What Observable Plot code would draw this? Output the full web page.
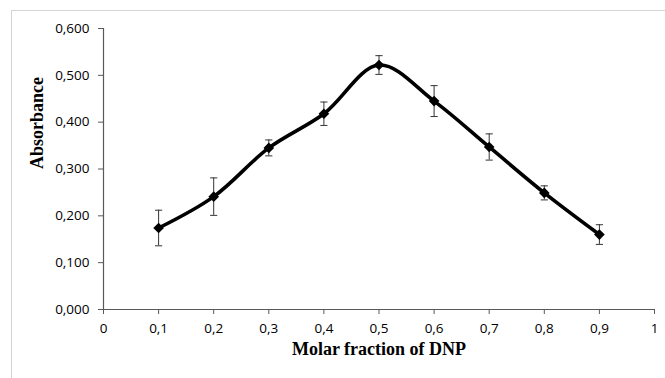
<!DOCTYPE html>
<html>
<head>
<meta charset="utf-8">
<script src="https://cdn.jsdelivr.net/npm/d3@7"></script>
<script src="https://cdn.jsdelivr.net/npm/@observablehq/plot@0.6"></script>
<style>
  html, body { margin: 0; padding: 0; background: #fff; }
  #wrap { position: relative; width: 665px; height: 378px; overflow: hidden; }
  #frame { position: absolute; left: 11px; top: 10px; right: -2px; bottom: -2px;
           border-top: 1px solid #d4d4d4; border-left: 1px solid #d4d4d4; pointer-events: none; }
</style>
</head>
<body>
<div id="wrap"><div id="frame"></div></div>
<script>
const molarFraction = [0.1, 0.2, 0.3, 0.4, 0.5, 0.6, 0.7, 0.8, 0.9];
const absorbance    = [0.174, 0.241, 0.345, 0.418, 0.522, 0.445, 0.347, 0.249, 0.160];
const errorSD       = [0.038, 0.040, 0.017, 0.025, 0.020, 0.033, 0.028, 0.015, 0.021];
const xTicks = [0, 0.1, 0.2, 0.3, 0.4, 0.5, 0.6, 0.7, 0.8, 0.9, 1];
const yTicks = [0, 0.1, 0.2, 0.3, 0.4, 0.5, 0.6];
const xTitle = "Molar fraction of DNP";
const yTitle = "Absorbance";

const data = molarFraction.map((x, i) => ({
  x, y: absorbance[i], lo: absorbance[i] - errorSD[i], hi: absorbance[i] + errorSD[i]
}));

const hline = {
  draw(ctx, size) {
    const r = Math.sqrt(size / Math.PI);
    ctx.moveTo(-r, 0);
    ctx.lineTo(r, 0);
  }
};

const axisColor = "#595959";
const titleFont = "'Liberation Serif', 'Times New Roman', serif";
const chart = Plot.plot({
  width: 665,
  height: 378,
  marginLeft: 103,
  marginRight: 11,
  marginTop: 28,
  marginBottom: 69,
  style: { fontFamily: "'Open Sans', sans-serif", fontSize: "13.5px", color: "#000", background: "transparent" },
  x: { domain: [0, 1], label: null },
  y: { domain: [0, 0.6], label: null },
  marks: [
    Plot.axisX({ ticks: xTicks, tickSize: 5, tickPadding: 9, stroke: axisColor,
      tickFormat: d => String(d).replace(".", ","), fill: "#000", fontSize: 13.5 }),
    Plot.axisY({ ticks: yTicks, tickSize: 5, tickPadding: 9, stroke: axisColor,
      tickFormat: d => d.toFixed(3).replace(".", ","), fill: "#000", fontSize: 13.5 }),
    Plot.ruleY([0], { stroke: axisColor, strokeWidth: 1.2 }),
    Plot.ruleX([0], { stroke: axisColor, strokeWidth: 1.2 }),
    Plot.ruleX(data, { x: "x", y1: "lo", y2: "hi", stroke: "#333", strokeWidth: 1 }),
    Plot.dot(data, { x: "x", y: "lo", symbol: hline, r: 3.6, stroke: "#333", strokeWidth: 1, fill: "none" }),
    Plot.dot(data, { x: "x", y: "hi", symbol: hline, r: 3.6, stroke: "#333", strokeWidth: 1, fill: "none" }),
    Plot.line(data, { x: "x", y: "y", curve: "catmull-rom", stroke: "#000", strokeWidth: 3.6 }),
    Plot.dot(data, { x: "x", y: "y", symbol: "diamond2", r: 4.8, fill: "#000", stroke: "none" }),
    Plot.text([xTitle], { frameAnchor: "bottom", dy: 45, text: d => d,
      fontFamily: titleFont, fontWeight: "bold", fontSize: 18, fill: "#000" }),
    Plot.text([yTitle], { frameAnchor: "left", dx: -66, rotate: -90, text: d => d,
      fontFamily: titleFont, fontWeight: "bold", fontSize: 18, fill: "#000" })
  ]
});
document.getElementById("wrap").appendChild(chart);
</script>
</body>
</html>
